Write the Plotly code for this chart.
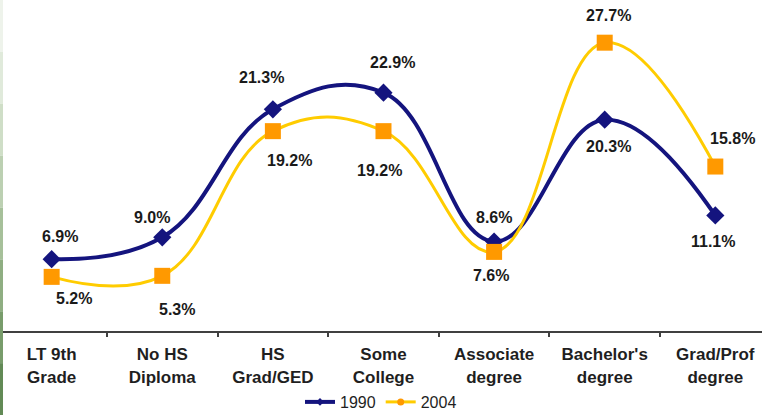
import plotly.graph_objects as go

# ---- data ----
categories = ["LT 9th<br>Grade", "No HS<br>Diploma", "HS<br>Grad/GED", "Some<br>College",
              "Associate<br>degree", "Bachelor's<br>degree", "Grad/Prof<br>degree"]
values_1990 = [6.9, 9.0, 21.3, 22.9, 8.6, 20.3, 11.1]
values_2004 = [5.2, 5.3, 19.2, 19.2, 7.6, 27.7, 15.8]
series_names = ["1990", "2004"]

# label offsets in pixels (dx, dy downward)
offsets_1990 = [(8, -23), (-10, -20), (-11, -32), (9, -30), (0, -24), (4, 27), (-2, 26)]
offsets_2004 = [(22, 22), (15, 34), (17, 29), (-4, 39), (-3, 24), (4, -27), (17, -28)]

NAVY = "#14147e"
YELLOW = "#FFCC00"
ORANGE = "#FF9900"
FONT = "Liberation Sans, Arial, sans-serif"

fig = go.Figure()
fig.add_trace(go.Scatter(
    x=categories, y=values_1990, mode="lines+markers", name=series_names[0],
    line=dict(color=NAVY, width=4, shape="spline", smoothing=1.2),
    marker=dict(symbol="diamond", size=14, color=NAVY), showlegend=False))
fig.add_trace(go.Scatter(
    x=categories, y=values_2004, mode="lines+markers", name=series_names[1],
    line=dict(color=YELLOW, width=3, shape="spline", smoothing=1.2),
    marker=dict(symbol="square", size=16, color=ORANGE), showlegend=False))

# legend-only entries with small markers
fig.add_trace(go.Scatter(x=[None], y=[None], mode="lines+markers", name=series_names[0],
                         line=dict(color=NAVY, width=4),
                         marker=dict(symbol="diamond", size=6, color=NAVY)))
fig.add_trace(go.Scatter(x=[None], y=[None], mode="lines+markers", name=series_names[1],
                         line=dict(color=YELLOW, width=3),
                         marker=dict(symbol="circle", size=7, color=ORANGE)))

annotations = []
for vals, offs in ((values_1990, offsets_1990), (values_2004, offsets_2004)):
    for c, v, (dx, dy) in zip(categories, vals, offs):
        annotations.append(dict(
            x=c, y=v, xref="x", yref="y", text=f"<b>{v:.1f}%</b>", showarrow=False,
            xshift=dx, yshift=-dy, font=dict(family=FONT, size=16, color="#1a1a1a")))

ticktext = []
for c in categories:
    parts = c.split("<br>")
    ticktext.append("<br>".join(f"<span style='font-size:17px'><b>{p}</b></span>" for p in parts))

# left green strip (decorative border)
strip_colors = ["#eef3eb", "#e0eadb", "#cfdec7", "#bcd0b2", "#a6c09a", "#8fae82", "#789c6b", "#628a56"]
shapes = []
y_bottom = -84 / 331
n = len(strip_colors)
for i, col in enumerate(strip_colors):
    y1 = 1 - i * (1 - y_bottom) / n
    y0 = 1 - (i + 1) * (1 - y_bottom) / n
    shapes.append(dict(type="rect", xref="paper", yref="paper", x0=0, x1=3 / 762,
                       y0=y0, y1=y1, fillcolor=col, line=dict(width=0), layer="above"))

fig.update_layout(
    width=762, height=415,
    margin=dict(l=0, r=0, t=0, b=84),
    paper_bgcolor="white", plot_bgcolor="white",
    font=dict(family=FONT, color="#1f1f1f"),
    xaxis=dict(type="category", range=[-0.467, 6.422], tickvals=categories, ticktext=ticktext,
               showgrid=False, zeroline=False, showline=True, linecolor="#404040", linewidth=2,
               ticks="outside", tickson="boundaries", ticklen=4, tickwidth=1.5, tickcolor="#404040",
               ticklabelstandoff=6, automargin=False,
               tickfont=dict(family=FONT, size=17.7, color="#1f1f1f")),
    yaxis=dict(range=[0, 31.8], visible=False, showgrid=False, zeroline=False, automargin=False),
    legend=dict(orientation="h", x=0.5, xanchor="center", xref="container",
                y=13 / 415, yanchor="middle", yref="container",
                font=dict(family=FONT, size=16, color="#1f1f1f"), bgcolor="rgba(0,0,0,0)",
                itemwidth=30, tracegroupgap=0),
    annotations=annotations,
    shapes=shapes,
)

fig.write_html("out.html", config={"displayModeBar": False},
               post_script="document.body.style.margin='0';document.body.style.overflow='hidden';")
